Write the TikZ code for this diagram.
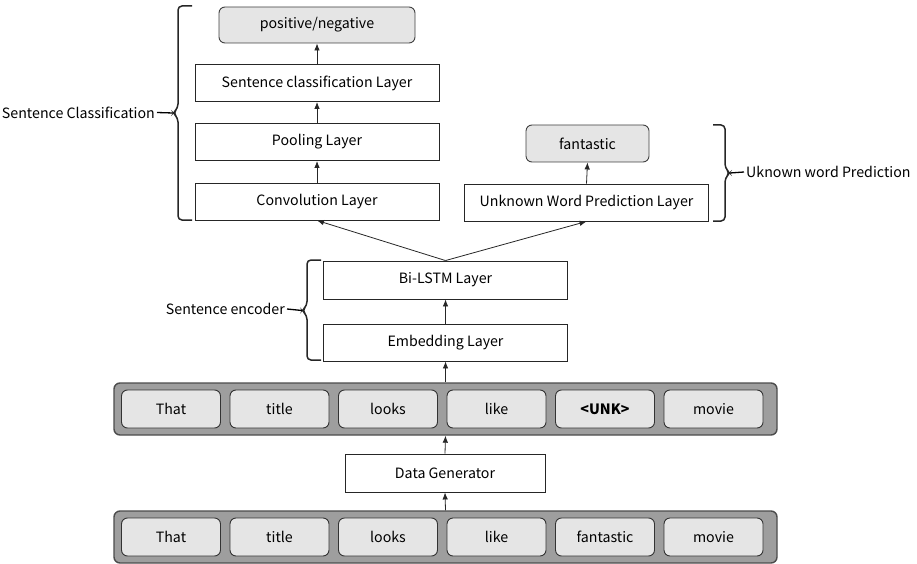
\documentclass[tikz,border=0pt]{standalone}
\usepackage{fontspec}
\setmainfont{Noto Sans CJK KR}
\usetikzlibrary{arrows.meta,positioning}

\begin{document}
\begin{tikzpicture}[x=1pt,y=-1pt,
  font=\fontsize{14.2}{17}\selectfont,
  layer/.style={draw=black!85,line width=0.9pt,fill=white,minimum width=244pt,minimum height=37pt,inner sep=0pt},
  result/.style={draw=black!75,line width=0.9pt,fill=black!10,rounded corners=6pt,minimum height=36pt,inner sep=0pt},
  tokrow/.style={draw=black!70,line width=1.4pt,fill=black!38,rounded corners=6pt,minimum width=663pt,minimum height=52pt,inner sep=0pt},
  token/.style={draw=black!80,line width=0.9pt,fill=black!10,rounded corners=6pt,minimum width=99pt,minimum height=38pt,inner sep=0pt},
  flow/.style={-{Latex[length=7pt,width=5.5pt]},line width=0.8pt,black!85},
  grp/.style={line width=1.5pt,black!85,rounded corners=4pt},
  grplbl/.style={inner sep=2pt}]
\useasboundingbox (0,0) rectangle (917,564);
% Sentence classification branch
\node[result,minimum width=196pt] (posneg) at (317,25) {positive/negative};
\node[layer] (sentcls) at (317,83) {Sentence classification Layer};
\node[layer] (pooling) at (317,142) {Pooling Layer};
\node[layer] (conv) at (317,201.5) {Convolution Layer};
% Unknown word branch
\node[result,minimum width=123pt,minimum height=37pt] (fant) at (587.5,143.5) {fantastic};
\node[layer] (unkpred) at (586.5,202.5) {Unknown Word Prediction Layer};
% Encoder
\node[layer,minimum height=38pt] (bilstm) at (445.5,280) {Bi-LSTM Layer};
\node[layer] (embed) at (445.5,342.5) {Embedding Layer};
% Token rows
\node[tokrow] (masked) at (445.5,409) {};
\node[layer,minimum width=200pt,minimum height=38pt] (datagen) at (445,473) {Data Generator};
\node[tokrow] (orig) at (445.5,537) {};
\foreach \i/\w in {0/That,1/title,2/looks,3/like,4/\textbf{<UNK>},5/movie} {
    \node[token] (m\i) at (171+108.5*\i,409) {\w};
}
\foreach \i/\w in {0/That,1/title,2/looks,3/like,4/fantastic,5/movie} {
    \node[token] (o\i) at (171+108.5*\i,537) {\w};
}
% Arrows
\draw[flow] (sentcls.north) -- (posneg.south);
\draw[flow] (pooling.north) -- (sentcls.south);
\draw[flow] (conv.north) -- (pooling.south);
\draw[flow] (unkpred.north) -- (fant.south);
\draw[flow] (bilstm.north) -- (conv.south);
\draw[flow] (bilstm.north) -- (unkpred.south);
\draw[flow] (embed.north) -- (bilstm.south);
\draw[flow] (masked.north) -- (embed.south);
\draw[flow] (datagen.north) -- (masked.south);
\draw[flow] (orig.north) -- (datagen.south);
% Braces and labels
\coordinate (clsTip) at (173,113);
\draw[grp] (192,6) -- (178,6) -- (178,108) -- (clsTip) -- (178,118) -- (178,220) -- (192,220);
\node[grplbl,anchor=east] (clslbl) at (157,112.5) {Sentence Classification};
\draw[line width=1.3pt] (clslbl.east) -- (clsTip);
\coordinate (unkTip) at (730,173);
\draw[grp] (713,125) -- (725,125) -- (725,168) -- (unkTip) -- (725,178) -- (725,221) -- (713,221);
\node[grplbl,anchor=west] (unklbl) at (744,172) {Uknown word Prediction};
\draw[line width=1.3pt] (unkTip) -- (unklbl.west);
\coordinate (encTip) at (302,310.5);
\draw[grp] (321,260) -- (307,260) -- (307,305.5) -- (encTip) -- (307,315.5) -- (307,360) -- (321,360);
\node[grplbl,anchor=east] (enclbl) at (287,309) {Sentence encoder};
\draw[line width=1.3pt] (enclbl.east) -- (encTip);
\end{tikzpicture}
\end{document}
